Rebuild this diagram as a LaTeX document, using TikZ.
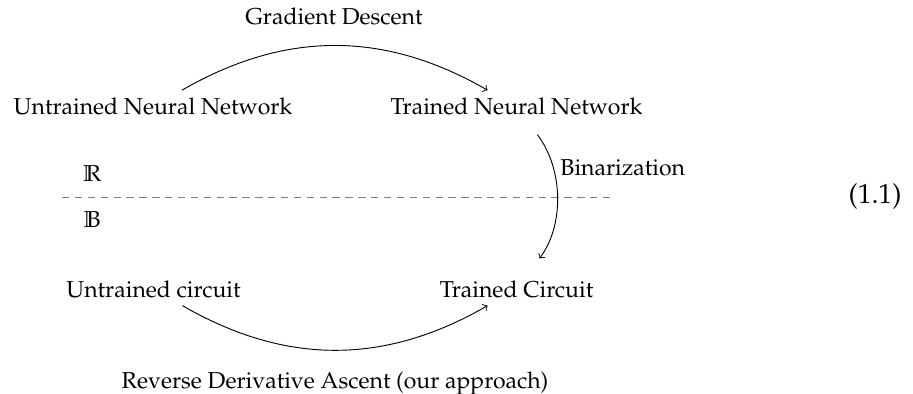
\documentclass[tikz,border=0pt]{standalone}
\usepackage[T1]{fontenc}
\usepackage{mathpazo}
\usepackage{amssymb}
\begin{document}
\begin{tikzpicture}[x=0.4348pt,y=-0.4348pt,
  obj/.style={anchor=base},
  lbl/.style={anchor=base,inner sep=0pt},
  arr/.style={->,line width=0.4pt},
  sep/.style={dash pattern=on 3.2pt off 2.4pt,gray,line width=0.4pt}]
\useasboundingbox (0,0) rectangle (913,394);
% objects
\node[obj] (unn) at (153,115) {Untrained Neural Network};
\node[obj] (tnn) at (516.5,115) {Trained Neural Network};
\node[obj] (uc) at (153.5,297) {Untrained circuit};
\node[obj] (tc) at (516.5,297) {Trained Circuit};
% labels
\node[lbl] (gd) at (334,25) {Gradient Descent};
\node[lbl,anchor=base west] (bin) at (560,175) {Binarization};
\node[lbl] (rda) at (335,388) {Reverse Derivative Ascent (our approach)};
\node[lbl] (R) at (92.5,182) {$\mathbb{R}$};
\node[lbl] (B) at (92.5,228) {$\mathbb{B}$};
\node[lbl,font=\fontsize{12}{14}\selectfont] (eq) at (875,203) {(1.1)};
% separator
\coordinate (s1) at (62,197);
\coordinate (s2) at (615,197);
\draw[sep] (s1) -- (s2);
% arrows
\draw[arr] (unn) to[bend left=30] (tnn);
\draw[arr] (uc) to[bend right=30] (tc);
\draw[arr,shorten <=6pt,shorten >=7.5pt] (tnn) to[out=-53,in=53] (tc);
\end{tikzpicture}
\end{document}
